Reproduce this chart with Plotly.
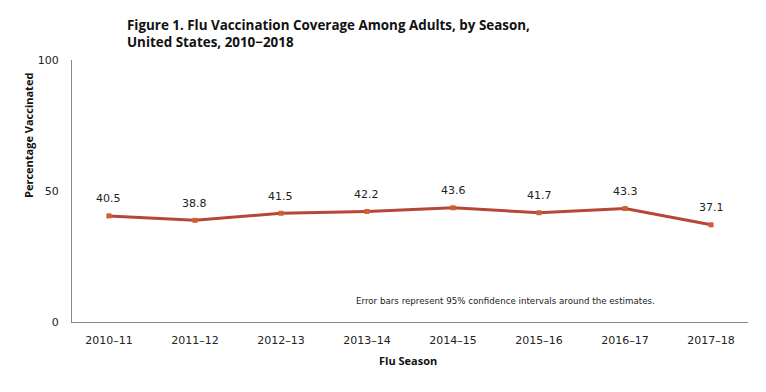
import plotly.graph_objects as go

seasons = ["2010–11", "2011–12", "2012–13", "2013–14", "2014–15", "2015–16", "2016–17", "2017–18"]
coverage = [40.5, 38.8, 41.5, 42.2, 43.6, 41.7, 43.3, 37.1]
y_ticks = [0, 50, 100]

# page has an 8px body margin; figure is sized so the plot lands where the reference has it
W, H = 758, 384
L, T, PW, PH = 64, 52, 676, 262

fig = go.Figure()
fig.add_trace(go.Scatter(
    x=seasons, y=coverage, mode="lines+markers",
    line=dict(color="#B5473A", width=3),
    marker=dict(symbol="square", size=5, color="#D0602E"),
    showlegend=False,
))

annotations = [
    dict(x=s, y=v, xref="x", yref="y", text=f"{v:.1f}", showarrow=False,
         yshift=17, font=dict(family="DejaVu Sans", size=11, color="#222"))
    for s, v in zip(seasons, coverage)
]
annotations += [
    dict(text="<b>Figure 1. Flu Vaccination Coverage Among Adults, by Season,<br>United States, 2010−2018</b>",
         xref="paper", yref="paper", x=(125-72)/PW, y=1+(60-14)/PH, xanchor="left", yanchor="top",
         align="left", showarrow=False,
         font=dict(family="Open Sans", size=13.4, color="#111")),
    dict(text="<b>Percentage Vaccinated</b>", textangle=-90,
         xref="paper", yref="paper", x=-(72-28)/PW, y=(322-136)/PH,
         xanchor="center", yanchor="middle", showarrow=False,
         font=dict(family="Open Sans", size=11, color="#111")),
    dict(text="<b>Flu Season</b>", xref="paper", yref="paper",
         x=(408-72)/PW, y=-(360-322)/PH, xanchor="center", yanchor="middle",
         showarrow=False, font=dict(family="Open Sans", size=11, color="#111")),
    dict(text="Error bars represent 95% confidence intervals around the estimates.",
         xref="paper", yref="paper", x=(506-72)/PW, y=(322-301)/PH,
         xanchor="center", yanchor="middle", showarrow=False,
         font=dict(family="DejaVu Sans", size=8.7, color="#222")),
]

fig.update_layout(
    width=W, height=H,
    margin=dict(l=L, r=W-L-PW, t=T, b=H-T-PH),
    paper_bgcolor="white", plot_bgcolor="white",
    font=dict(family="DejaVu Sans", size=11, color="#333"),
    xaxis=dict(showline=True, linecolor="#888", linewidth=1, ticks="",
               ticklabelstandoff=8,
               showgrid=False, tickfont=dict(size=11, color="#222")),
    yaxis=dict(range=[0, 100], tickvals=y_ticks, showline=True, linecolor="#888",
               linewidth=1, showgrid=False, zeroline=False, ticks="",
               ticklabelstandoff=10,
               tickfont=dict(size=11, color="#222")),
    annotations=annotations,
)

fig.write_html("out.html")
